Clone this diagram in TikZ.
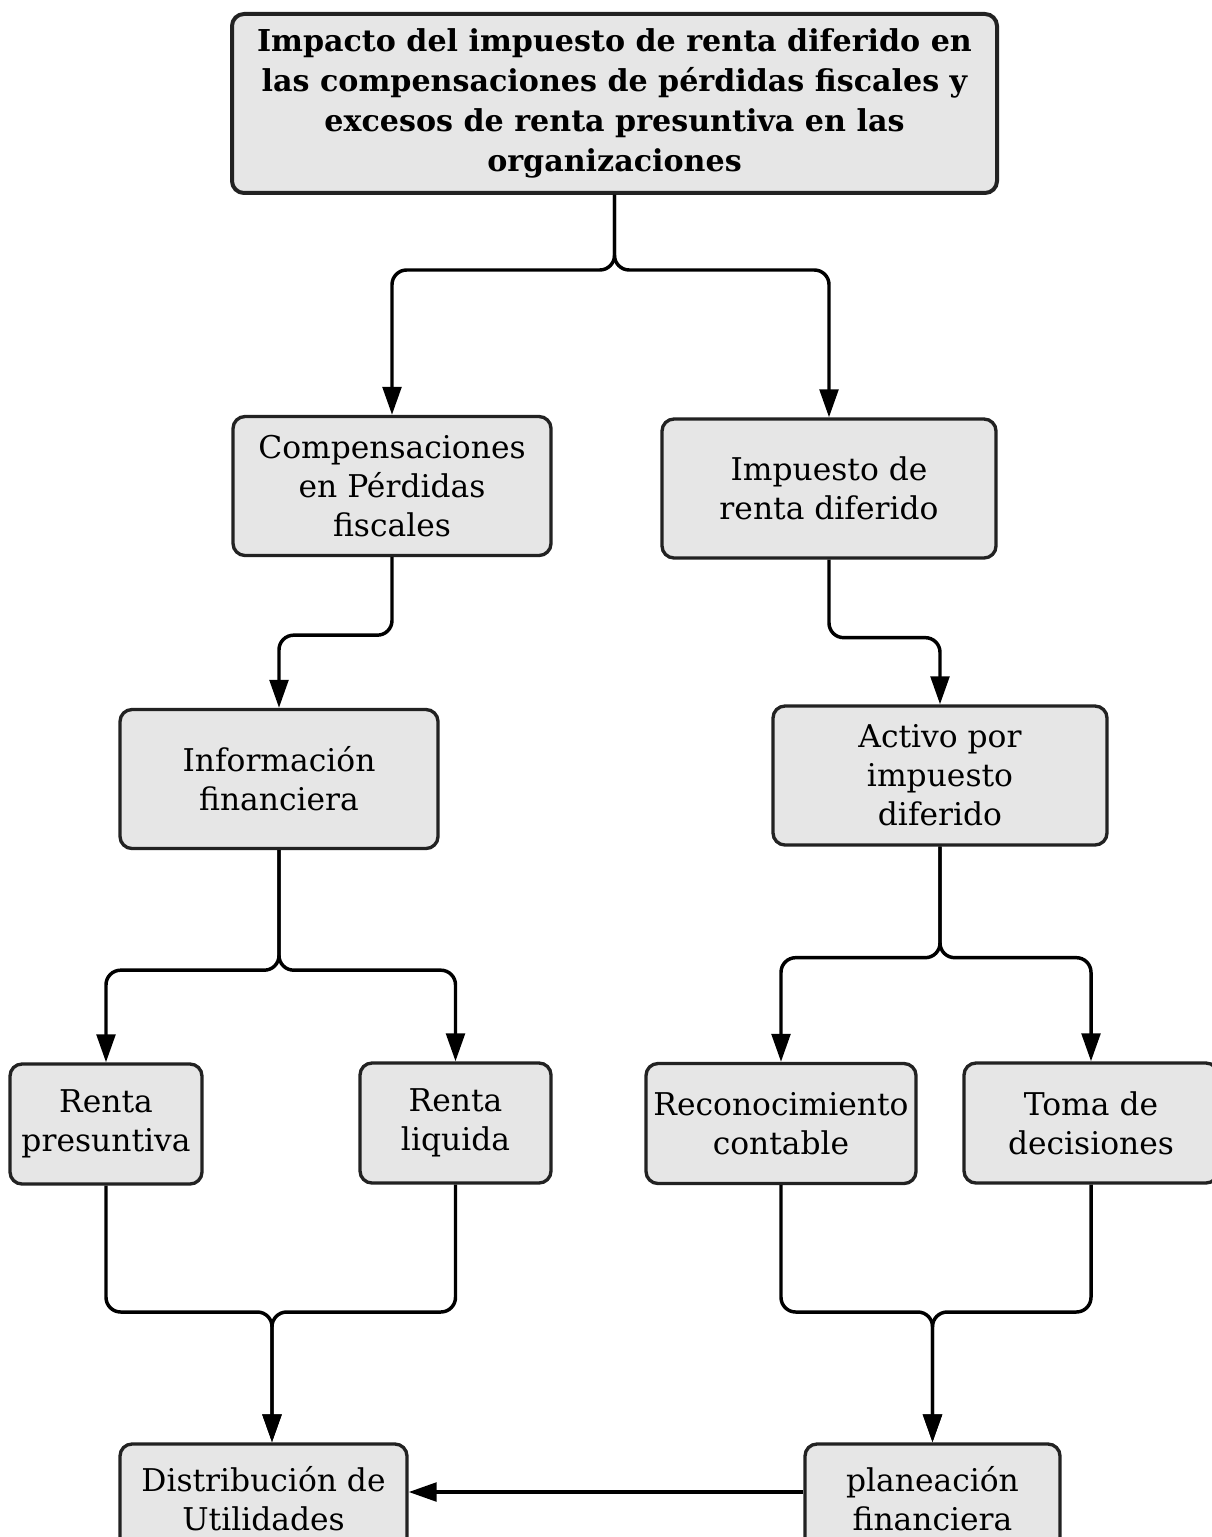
\documentclass[tikz,border=0pt]{standalone}
\usepackage{fontspec}
\setmainfont{DejaVu Serif}
\usetikzlibrary{arrows.meta}
\definecolor{boxfill}{HTML}{E6E6E6}
\definecolor{boxline}{HTML}{222222}
\tikzset{
  box/.style={draw=boxline, fill=boxfill, line width=2.5pt, rounded corners=9pt,
    align=center, inner sep=0pt, font=\fontsize{23.5}{29.25}\selectfont},
  conn/.style={line width=2.6pt, rounded corners=11pt,
    -{Triangle[length=21pt,width=14pt]}},
}
\begin{document}
\begin{tikzpicture}[x=0.75pt,y=-0.75pt]
\useasboundingbox (0,0) rectangle (1212,1537);
\node[box, line width=3pt, minimum width=765*0.75pt, minimum height=179*0.75pt,
  font=\fontsize{22.6}{30}\selectfont\bfseries] (top) at (614.5,103.5)
  {Impacto del impuesto de renta diferido en\\las compensaciones de pérdidas fiscales y\\excesos de renta presuntiva en las\\organizaciones};
\node[box, minimum width=318*0.75pt, minimum height=139*0.75pt] (comp) at (392,486)
  {Compensaciones\\en Pérdidas\\fiscales};
\node[box, minimum width=334*0.75pt, minimum height=139*0.75pt] (imp) at (829,488.5)
  {Impuesto de\\renta diferido};
\node[box, minimum width=318*0.75pt, minimum height=139*0.75pt] (info) at (279,779)
  {Información\\financiera};
\node[box, minimum width=334*0.75pt, minimum height=139*0.75pt] (act) at (940,775.5)
  {Activo por\\impuesto\\diferido};
\node[box, minimum width=192*0.75pt, minimum height=120*0.75pt] (rp) at (106,1124)
  {Renta\\presuntiva};
\node[box, minimum width=191*0.75pt, minimum height=120*0.75pt] (rl) at (455.5,1123)
  {Renta\\liquida};
\node[box, minimum width=270*0.75pt, minimum height=120*0.75pt] (rc) at (781,1123.5)
  {Reconocimiento\\contable};
\node[box, minimum width=254*0.75pt, minimum height=120*0.75pt] (toma) at (1091,1123)
  {Toma de\\decisiones};
\node[box, minimum width=287*0.75pt, minimum height=110*0.75pt] (dist) at (263.5,1499)
  {Distribución de\\Utilidades};
\node[box, minimum width=255*0.75pt, minimum height=110*0.75pt] (plan) at (932.5,1499)
  {planeación\\financiera};
% connectors
\draw[conn] (top.south) -- ++(0,75) -| (comp.north);
\draw[conn] (top.south) -- ++(0,75) -| (imp.north);
\draw[conn] (comp.south) -- ++(0,78) -| (info.north);
\draw[conn] (imp.south) -- ++(0,78) -| (act.north);
\draw[conn] (info.south) -- ++(0,120) -| (rp.north);
\draw[conn] (info.south) -- ++(0,120) -| (rl.north);
\draw[conn] (act.south) -- ++(0,111) -| (rc.north);
\draw[conn] (act.south) -- ++(0,111) -| (toma.north);
\coordinate (m1) at (272,1312);
\coordinate (m2) at (932.5,1312);
\draw[conn] (rp.south) -- (rp.south |- m1) -- (m1) -- (m1 |- dist.north);
\draw[conn] (rl.south) -- (rl.south |- m1) -- (m1) -- (m1 |- dist.north);
\draw[conn] (rc.south) -- (rc.south |- m2) -- (m2) -- (plan.north);
\draw[conn] (toma.south) -- (toma.south |- m2) -- (m2) -- (plan.north);
\draw[conn, rounded corners=0pt] (plan.west |- 0,1492) -- (dist.east |- 0,1492);
\end{tikzpicture}
\end{document}
